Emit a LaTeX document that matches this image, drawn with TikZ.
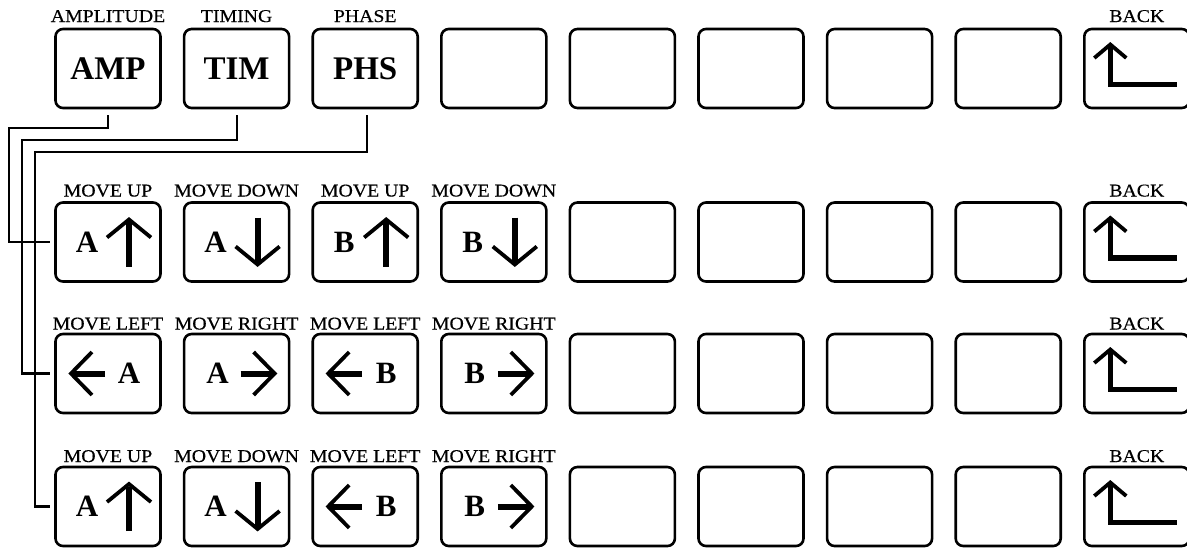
\documentclass[tikz,border=0pt]{standalone}
\usepackage{fontspec}
\setmainfont{Liberation Serif}
\newfontfamily\labfont[FakeStretch=1.1,FakeBold=0.4]{Liberation Serif}
\usetikzlibrary{calc}
\tikzset{
  btn/.style={draw, line width=2.6pt, rounded corners=7.5pt, minimum width=105pt, minimum height=79pt, inner sep=0pt, outer sep=0pt, anchor=north west},
  lab/.style={font=\labfont\fontsize{18}{18}\selectfont, anchor=base, inner sep=0pt},
  big/.style={font=\bfseries\fontsize{33}{33}\selectfont, inner sep=0pt},
  letr/.style={font=\bfseries\fontsize{31}{31}\selectfont, inner sep=0pt},
  conn/.style={line width=2.2pt},
  shaft/.style={line width=6pt},
  head/.style={line width=3.8pt, line join=miter, miter limit=10},
  uparr/.pic={\draw[shaft] (0,24.5) -- (0,-20); \draw[head] (-22,-4.5) -- (0,-22.5) -- (22,-4.5);},
  dnarr/.pic={\draw[shaft] (0,-24.5) -- (0,20); \draw[head] (-22,4.5) -- (0,22.5) -- (22,4.5);},
  ltarr/.pic={\draw[shaft] (18,0) -- (-14,0); \draw[head] (5,-21.5) -- (-16,0) -- (5,21.5);},
  rtarr/.pic={\draw[shaft] (-18,0) -- (14,0); \draw[head] (-5,-21.5) -- (16,0) -- (-5,21.5);},
  backarr/.pic={\draw[line width=5.5pt, line join=miter] (26,18) -- (26,55.5) -- (93,55.5); \draw[head] (10,29) -- (26,15.5) -- (42,29);}
}
\begin{document}
\begin{tikzpicture}[x=1pt,y=-1pt]
\useasboundingbox (0,0) rectangle (1187,547);
\foreach \r/\ty/\g in {1/29/7,2/202.5/6,3/334/4.5,4/467/5}{
  \foreach \k in {0,...,8}{
    \node[btn] (b\r-\k) at (55.5+128.6*\k, \ty) {};
  }
  \pic at (b\r-8.north west) {backarr};
  \node[lab] (l\r-8) at ($(b\r-8.north)+(0,-\g)$) {BACK};
}
% row 1
\node[lab] (l1-0) at ($(b1-0.north)+(0,-7)$) {AMPLITUDE};
\node[lab] (l1-1) at ($(b1-1.north)+(0,-7)$) {TIMING};
\node[lab] (l1-2) at ($(b1-2.north)+(0,-7)$) {PHASE};
\node[big] (t1-0) at (b1-0.center) {AMP};
\node[big] (t1-1) at (b1-1.center) {TIM};
\node[big] (t1-2) at (b1-2.center) {PHS};
% row 2
\node[lab] (l2-0) at ($(b2-0.north)+(0,-6)$) {MOVE UP};
\node[lab] (l2-1) at ($(b2-1.north)+(0,-6)$) {MOVE DOWN};
\node[lab] (l2-2) at ($(b2-2.north)+(0,-6)$) {MOVE UP};
\node[lab] (l2-3) at ($(b2-3.north)+(0,-6)$) {MOVE DOWN};
\node[letr] (t2-0) at ($(b2-0.center)+(-21,0)$) {A};
\pic at ($(b2-0.center)+(21,0)$) {uparr};
\node[letr] (t2-1) at ($(b2-1.center)+(-21,0)$) {A};
\pic at ($(b2-1.center)+(21,0)$) {dnarr};
\node[letr] (t2-2) at ($(b2-2.center)+(-21,0)$) {B};
\pic at ($(b2-2.center)+(21,0)$) {uparr};
\node[letr] (t2-3) at ($(b2-3.center)+(-21,0)$) {B};
\pic at ($(b2-3.center)+(21,0)$) {dnarr};
% row 3
\node[lab] (l3-0) at ($(b3-0.north)+(0,-4.5)$) {MOVE LEFT};
\node[lab] (l3-1) at ($(b3-1.north)+(0,-4.5)$) {MOVE RIGHT};
\node[lab] (l3-2) at ($(b3-2.north)+(0,-4.5)$) {MOVE LEFT};
\node[lab] (l3-3) at ($(b3-3.north)+(0,-4.5)$) {MOVE RIGHT};
\pic at ($(b3-0.center)+(-21,0)$) {ltarr};
\node[letr] (t3-0) at ($(b3-0.center)+(21,0)$) {A};
\node[letr] (t3-1) at ($(b3-1.center)+(-19,0)$) {A};
\pic at ($(b3-1.center)+(22,0)$) {rtarr};
\pic at ($(b3-2.center)+(-21,0)$) {ltarr};
\node[letr] (t3-2) at ($(b3-2.center)+(21,0)$) {B};
\node[letr] (t3-3) at ($(b3-3.center)+(-19,0)$) {B};
\pic at ($(b3-3.center)+(22,0)$) {rtarr};
% row 4
\node[lab] (l4-0) at ($(b4-0.north)+(0,-5)$) {MOVE UP};
\node[lab] (l4-1) at ($(b4-1.north)+(0,-5)$) {MOVE DOWN};
\node[lab] (l4-2) at ($(b4-2.north)+(0,-5)$) {MOVE LEFT};
\node[lab] (l4-3) at ($(b4-3.north)+(0,-5)$) {MOVE RIGHT};
\node[letr] (t4-0) at ($(b4-0.center)+(-21,0)$) {A};
\pic at ($(b4-0.center)+(21,0)$) {uparr};
\node[letr] (t4-1) at ($(b4-1.center)+(-21,0)$) {A};
\pic at ($(b4-1.center)+(21,0)$) {dnarr};
\pic at ($(b4-2.center)+(-21,0)$) {ltarr};
\node[letr] (t4-2) at ($(b4-2.center)+(21,0)$) {B};
\node[letr] (t4-3) at ($(b4-3.center)+(-19,0)$) {B};
\pic at ($(b4-3.center)+(22,0)$) {rtarr};
% connectors
\draw[conn] ($(b1-0.south)+(0,7)$) |- (9,128) |- ($(b2-0.west)+(-6,0)$);
\draw[conn] ($(b1-1.south)+(0,7)$) |- (22,140) |- ($(b3-0.west)+(-6,0)$);
\draw[conn] ($(b1-2.south)+(1.5,7)$) |- (35,152) |- ($(b4-0.west)+(-6,0)$);
\end{tikzpicture}
\end{document}
